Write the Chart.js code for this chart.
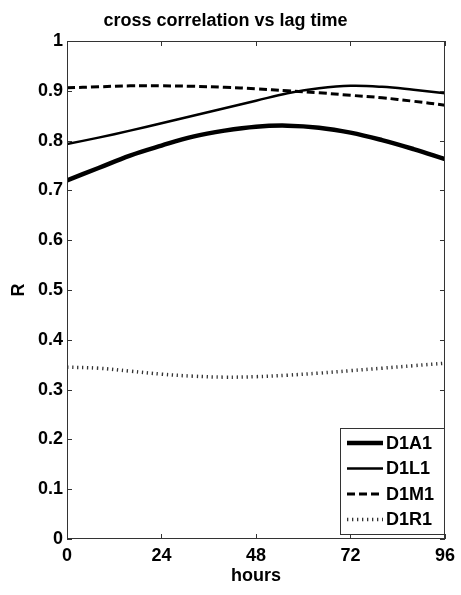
<!DOCTYPE html>
<html>
<head>
<meta charset="utf-8">
<script src="https://cdn.jsdelivr.net/npm/chart.js@4.4.1/dist/chart.umd.min.js"></script>
<style>
  html, body { margin: 0; padding: 0; background: #fff; }
  #wrap { width: 461px; height: 595px; }
</style>
</head>
<body>
<div id="wrap"><canvas id="chart"></canvas></div>
<script>
// values
const hours = [0, 8, 16, 24, 32, 40, 48, 56, 64, 72, 80, 88, 96];
const d1a1 = [0.72, 0.745, 0.77, 0.79, 0.808, 0.82, 0.828, 0.83, 0.826, 0.816, 0.801, 0.783, 0.763];
const d1l1 = [0.793, 0.806, 0.82, 0.835, 0.85, 0.865, 0.88, 0.895, 0.905, 0.91, 0.908, 0.902, 0.895];
const d1m1 = [0.906, 0.908, 0.91, 0.91, 0.909, 0.907, 0.904, 0.9, 0.896, 0.891, 0.886, 0.879, 0.871];
const d1r1 = [0.345, 0.343, 0.337, 0.331, 0.327, 0.325, 0.326, 0.329, 0.333, 0.338, 0.343, 0.348, 0.353];
const seriesNames = ["D1A1", "D1L1", "D1M1", "D1R1"];
const xTicks = ["0", "24", "48", "72", "96"];
const yTicks = ["0", "0.1", "0.2", "0.3", "0.4", "0.5", "0.6", "0.7", "0.8", "0.9", "1"];

const FONT = "'Liberation Sans', Arial, sans-serif";
const pts = (arr) => arr.map((v, i) => ({ x: hours[i], y: v }));

const styles = [
  { borderWidth: 4.5, borderDash: [], borderColor: "#000" },
  { borderWidth: 2.5, borderDash: [], borderColor: "#000" },
  { borderWidth: 3, borderDash: [8, 4], borderColor: "#000" },
  { borderWidth: 3.5, borderDash: [1.3, 3.7], borderColor: "#333" }
];

const datasets = [d1a1, d1l1, d1m1, d1r1].map((arr, i) => ({
  label: seriesNames[i],
  data: pts(arr),
  borderColor: styles[i].borderColor,
  borderWidth: styles[i].borderWidth,
  borderDash: styles[i].borderDash,
  borderCapStyle: "butt",
  tension: 0.4,
  pointRadius: 0,
  fill: false
}));

// MATLAB-like box with inward ticks, and a legend inside the axes
const boxPlugin = {
  id: "box",
  afterDraw(chart) {
    const { ctx, chartArea: a, scales } = chart;
    ctx.save();
    ctx.strokeStyle = "#333";
    ctx.lineWidth = 1;
    ctx.setLineDash([]);
    ctx.strokeRect(a.left + 0.5, a.top + 0.5, a.right - a.left - 1, a.bottom - a.top - 1);
    const len = 5;
    ctx.beginPath();
    scales.x.ticks.forEach(t => {
      const px = Math.round(scales.x.getPixelForValue(t.value)) + 0.5;
      ctx.moveTo(px, a.bottom); ctx.lineTo(px, a.bottom - len);
      ctx.moveTo(px, a.top); ctx.lineTo(px, a.top + len);
    });
    scales.y.ticks.forEach(t => {
      const py = Math.round(scales.y.getPixelForValue(t.value)) + 0.5;
      ctx.moveTo(a.left, py); ctx.lineTo(a.left + len, py);
      ctx.moveTo(a.right, py); ctx.lineTo(a.right - len, py);
    });
    ctx.stroke();

    // legend
    const bx = 340, by = 428, bw = a.right - 340, bh = 106;
    ctx.fillStyle = "#fff";
    ctx.fillRect(bx, by, bw, bh);
    ctx.strokeStyle = "#333";
    ctx.strokeRect(bx + 0.5, by + 0.5, bw - 1, bh);
    ctx.font = "bold 18px " + FONT;
    ctx.textBaseline = "middle";
    ctx.textAlign = "left";
    chart.data.datasets.forEach((ds, i) => {
      const y = by + 15 + i * 25.5;
      ctx.beginPath();
      ctx.strokeStyle = ds.borderColor;
      ctx.lineWidth = ds.borderWidth;
      ctx.setLineDash(ds.borderDash);
      ctx.moveTo(347, y); ctx.lineTo(383, y);
      ctx.stroke();
      ctx.fillStyle = "#000";
      ctx.fillText(ds.label, 386, y + 1);
    });
    ctx.restore();
  }
};

new Chart(document.getElementById("chart"), {
  type: "line",
  data: { datasets },
  options: {
    responsive: true,
    maintainAspectRatio: false,
    animation: false,
    layout: { padding: { left: 0, right: 10, top: 0, bottom: 0 } },
    plugins: {
      legend: { display: false },
      tooltip: { enabled: false },
      title: {
        display: true,
        text: "cross correlation vs lag time",
        color: "#000",
        font: { family: FONT, size: 18, weight: "bold" },
        padding: { top: 10, bottom: 9.4 }
      }
    },
    scales: {
      x: {
        type: "linear",
        min: 0, max: 96,
        afterFit: (s) => { s.height = 56; },
        grid: { display: false, drawTicks: false },
        border: { display: false },
        ticks: {
          stepSize: 24,
          padding: 6,
          color: "#000",
          maxRotation: 0,
          font: { family: FONT, size: 18, weight: "bold" },
          callback: (v) => xTicks[v / 24]
        },
        title: {
          display: true,
          text: "hours",
          color: "#000",
          font: { family: FONT, size: 18, weight: "bold" },
          padding: { top: 0, bottom: 8 }
        }
      },
      y: {
        min: 0, max: 1,
        afterFit: (s) => { s.width = 67; },
        grid: { display: false, drawTicks: false },
        border: { display: false },
        ticks: {
          stepSize: 0.1,
          padding: 4,
          color: "#000",
          font: { family: FONT, size: 18, weight: "bold" },
          callback: (v) => yTicks[Math.round(v * 10)]
        },
        title: {
          display: true,
          text: "R",
          color: "#000",
          font: { family: FONT, size: 18, weight: "bold" },
          padding: { top: 8, bottom: 0 }
        }
      }
    }
  },
  plugins: [boxPlugin]
});
</script>
</body>
</html>
